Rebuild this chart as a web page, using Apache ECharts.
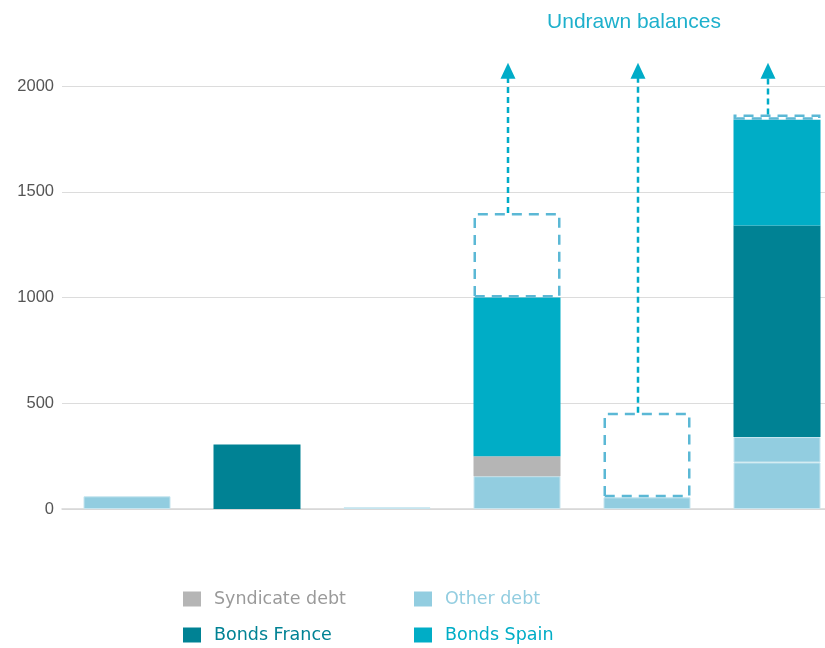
<!DOCTYPE html>
<html>
<head>
<meta charset="utf-8">
<script src="https://cdn.jsdelivr.net/npm/echarts@6/dist/echarts.min.js"></script>
<style>
  html, body { margin: 0; padding: 0; background: #fff; }
  #chart { width: 825px; height: 648px; }
</style>
</head>
<body>
<div id="chart"></div>
<script>
// six balance columns, no category labels shown
const categories = ['A', 'B', 'C', 'D', 'E', 'F'];
const otherDebt = [60, '-', 8, 155, 55, 220];
const otherDebt2 = ['-', '-', '-', '-', '-', 120];
const syndicateDebt = ['-', '-', '-', 95, '-', '-'];
const bondsFrance = ['-', 305, '-', '-', '-', 1000];
const bondsSpain = ['-', '-', '-', 750, '-', 500];
const undrawn = ['-', '-', '-', 400, 400, 25];
// arrows: [category index, start value, tip value]
const arrows = [[3, 1400, 2110], [4, 455, 2110], [5, 1865, 2110]];
const yTicks = [0, 500, 1000, 1500, 2000];

const C_OTHER = '#92cde0';
const C_SYND = '#b5b5b5';
const C_FRANCE = '#008294';
const C_SPAIN = '#00adc6';
const C_ARROW = '#00acc8';

var myChart = echarts.init(document.getElementById('chart'));

const barBase = { type: 'bar', stack: 'total', barWidth: 87 };
const legendBase = {
    orient: 'vertical', top: 585, height: 80, itemWidth: 18, itemHeight: 15, itemGap: 18,
    icon: 'rect',
    itemStyle: { borderWidth: 0 },
    textStyle: { fontSize: 17.5, fontFamily: 'DejaVu Sans', padding: [0, 0, 0, 8] }
};

var option = {
    animation: false,
    title: {
        text: 'Undrawn balances',
        left: 629, top: 7, textAlign: 'center',
        textStyle: { color: '#1eb0cc', fontSize: 21, fontWeight: 'normal', fontFamily: 'Liberation Sans' }
    },
    grid: { left: 62, right: -17, top: 86, bottom: 139, outerBoundsMode: 'none' },
    legend: [{
        ...legendBase, left: 178,
        data: [
            { name: 'Syndicate debt', textStyle: { color: '#9a9a9a' } },
            { name: 'Bonds France', textStyle: { color: C_FRANCE } }
        ]
    }, {
        ...legendBase, left: 409,
        data: [
            { name: 'Other debt', textStyle: { color: C_OTHER } },
            { name: 'Bonds Spain', textStyle: { color: C_SPAIN } }
        ]
    }],
    xAxis: {
        type: 'category',
        data: categories,
        axisLabel: { show: false },
        axisTick: { show: false },
        axisLine: { lineStyle: { color: '#d6d6d6', width: 1.5 } }
    },
    yAxis: {
        type: 'value',
        min: yTicks[0], max: yTicks[yTicks.length - 1], interval: 500,
        axisLine: { show: false },
        axisTick: { show: false },
        axisLabel: { color: '#555', fontSize: 16.5, fontFamily: 'Liberation Sans', margin: 8,
                     formatter: function (v) { return String(v); } },
        splitLine: { lineStyle: { color: '#dcdcdc', width: 1 } }
    },
    series: [
        { ...barBase, name: 'Other debt', data: otherDebt,
          itemStyle: { color: C_OTHER, borderColor: '#c6e5ef', borderWidth: 1 } },
        { ...barBase, name: 'Other debt ', data: otherDebt2,
          itemStyle: { color: C_OTHER, borderColor: '#c6e5ef', borderWidth: 1 } },
        { ...barBase, name: 'Syndicate debt', data: syndicateDebt, itemStyle: { color: C_SYND } },
        { ...barBase, name: 'Bonds France', data: bondsFrance, itemStyle: { color: C_FRANCE } },
        { ...barBase, name: 'Bonds Spain', data: bondsSpain, itemStyle: { color: C_SPAIN } },
        { ...barBase, name: 'Undrawn', data: undrawn, z: 3,
          itemStyle: { color: 'rgba(0,0,0,0)', borderColor: '#5bb8d5', borderWidth: 2.5, borderType: [10, 7] } },
        {
            type: 'custom', name: 'arrows', data: arrows, clip: false, z: 4,
            encode: { x: 0, y: 1 },
            renderItem: function (params, api) {
                const p0 = api.coord([api.value(0), api.value(1)]);
                const p1 = api.coord([api.value(0), api.value(2)]);
                const cx = p0[0] - 9;
                return {
                    type: 'group',
                    children: [{
                        type: 'line',
                        shape: { x1: cx, y1: p0[1], x2: cx, y2: p1[1] + 15 },
                        style: { stroke: C_ARROW, lineWidth: 2.5, lineDash: [6, 4] }
                    }, {
                        type: 'polygon',
                        shape: { points: [[cx, p1[1]], [cx - 7.5, p1[1] + 16], [cx + 7.5, p1[1] + 16]] },
                        style: { fill: C_ARROW }
                    }]
                };
            }
        }
    ]
};

option && myChart.setOption(option);
</script>
</body>
</html>
